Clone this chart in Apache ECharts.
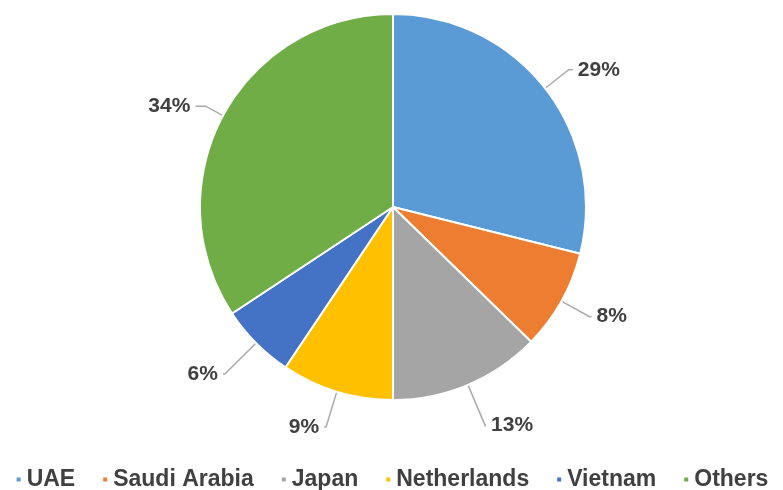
<!DOCTYPE html>
<html>
<head>
<meta charset="utf-8">
<script src="https://cdn.jsdelivr.net/npm/echarts@6/dist/echarts.min.js"></script>
<style>
  html, body { margin: 0; padding: 0; background: #fff; }
  #main { width: 783px; height: 490px; }
</style>
</head>
<body>
<div id="main"></div>
<script>
const countries = ['UAE', 'Saudi Arabia', 'Japan', 'Netherlands', 'Vietnam', 'Others'];
const shares = [28.9, 8.4, 12.7, 9.4, 6.3, 34.3];
const colors = ['#5B9BD5', '#ED7D31', '#A5A5A5', '#FFC000', '#4472C4', '#70AD47'];

const font = '"Liberation Sans", Arial, sans-serif';
// label line lengths per slice, roughly like the original layout
const lineLen = [[30, 4], [32, 2], [44, 1], [37, 2], [44, 2], [20, 10]];

let chart = echarts.init(document.getElementById('main'));
chart.setOption({
  animation: false,
  color: colors,
  legend: {
    top: 463,
    left: 'center',
    itemWidth: 6,
    itemHeight: 6,
    itemGap: 26,
    icon: 'rect',
    textStyle: { fontFamily: font, fontSize: 23, color: '#404040', fontWeight: 'bold' },
    data: countries
  },
  series: [{
    type: 'pie',
    center: [393, 207],
    radius: 193,
    startAngle: 90,
    clockwise: true,
    itemStyle: { borderColor: '#fff', borderWidth: 2 },
    label: {
      formatter: p => Math.round(p.value) + '%',
      fontFamily: font,
      fontSize: 21,
      fontWeight: 'bold',
      color: '#404040'
    },
    labelLine: {
      lineStyle: { color: '#aaa', width: 1.5 }
    },
    data: countries.map((c, i) => ({
      name: c,
      value: shares[i],
      labelLine: { length: lineLen[i][0], length2: lineLen[i][1] }
    }))
  }]
});
</script>
</body>
</html>
